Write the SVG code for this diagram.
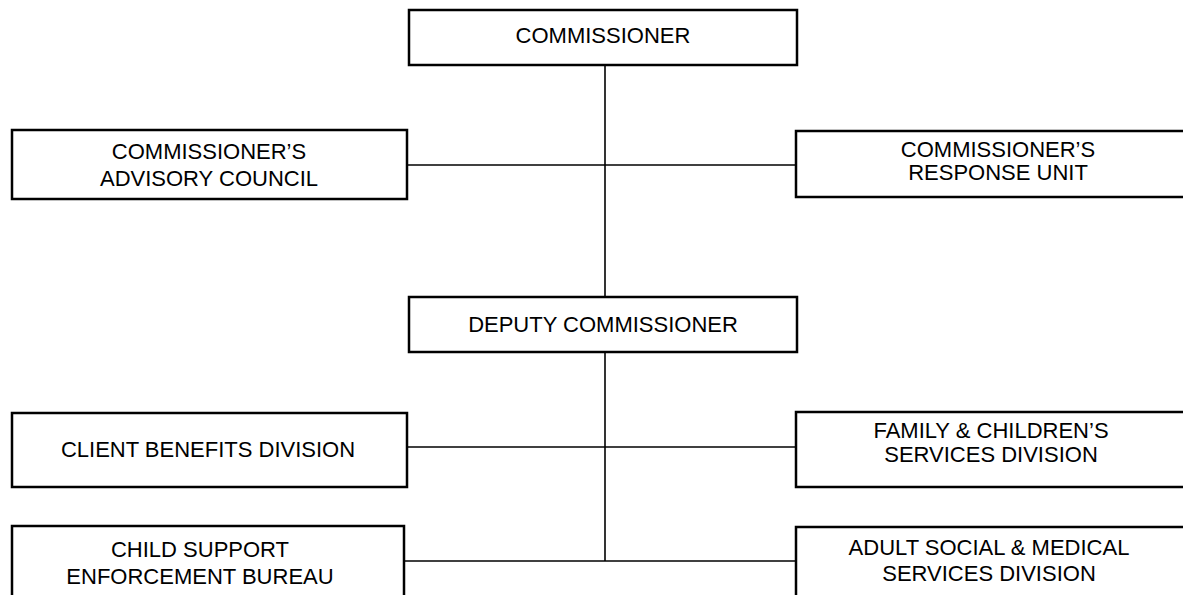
<svg xmlns="http://www.w3.org/2000/svg" width="1183" height="595" viewBox="0 0 1183 595">
<style>
.box{fill:#fff;stroke:#000;stroke-width:2.5}
.ln{fill:none;stroke:#000;stroke-width:1.6}
text{font-family:"Liberation Sans",Arial,sans-serif;font-size:22px;fill:#000;text-anchor:middle}
</style>
<rect width="1183" height="595" fill="#fff"/>
<g id="connectors">
<line class="ln" x1="605" y1="65" x2="605" y2="297"/>
<line class="ln" x1="605" y1="352" x2="605" y2="561"/>
<line class="ln" x1="407" y1="165" x2="796" y2="165"/>
<line class="ln" x1="407" y1="447" x2="796" y2="447"/>
<line class="ln" x1="404" y1="561" x2="796" y2="561"/>
</g>
<g id="commissioner">
<rect class="box" x="409" y="10" width="388" height="55"/>
<text x="603" y="43">COMMISSIONER</text>
</g>
<g id="advisory">
<rect class="box" x="12" y="130" width="395" height="69"/>
<text x="209" y="159">COMMISSIONER’S</text>
<text x="209" y="186">ADVISORY COUNCIL</text>
</g>
<g id="response">
<rect class="box" x="796" y="131" width="400" height="66"/>
<text x="998" y="157">COMMISSIONER’S</text>
<text x="998" y="180">RESPONSE UNIT</text>
</g>
<g id="deputy">
<rect class="box" x="409" y="297" width="388" height="55"/>
<text x="603" y="332">DEPUTY COMMISSIONER</text>
</g>
<g id="client">
<rect class="box" x="12" y="413" width="395" height="74"/>
<text x="208" y="457">CLIENT BENEFITS DIVISION</text>
</g>
<g id="family">
<rect class="box" x="796" y="412" width="400" height="75"/>
<text x="991" y="438">FAMILY &amp; CHILDREN’S</text>
<text x="991" y="462">SERVICES DIVISION</text>
</g>
<g id="child">
<rect class="box" x="12" y="526" width="392" height="80"/>
<text x="200" y="557">CHILD SUPPORT</text>
<text x="200" y="584">ENFORCEMENT BUREAU</text>
</g>
<g id="adult">
<rect class="box" x="796" y="527" width="400" height="80"/>
<text x="989" y="555">ADULT SOCIAL &amp; MEDICAL</text>
<text x="989" y="581">SERVICES DIVISION</text>
</g>
</svg>
